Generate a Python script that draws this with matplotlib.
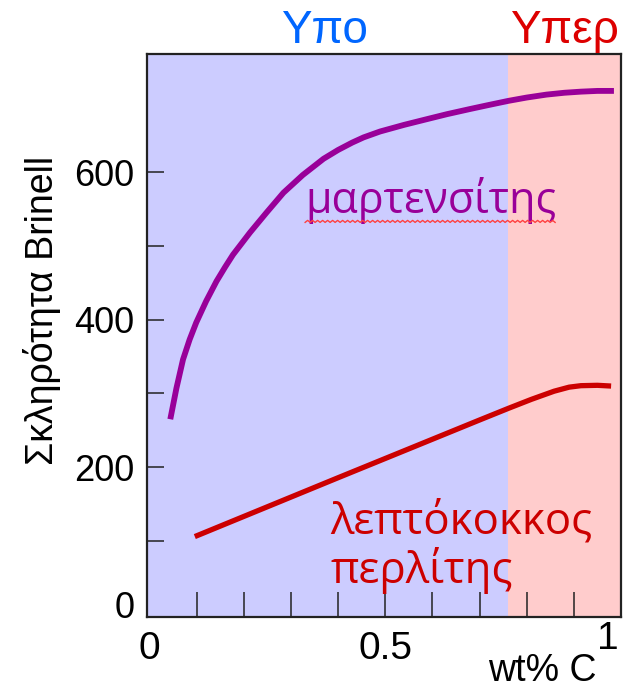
import numpy as np
import matplotlib.pyplot as plt
from matplotlib.transforms import ScaledTranslation

# hardness vs carbon content
wt_c_mart = [0.044, 0.057, 0.071, 0.085, 0.099, 0.12, 0.142, 0.16, 0.177, 0.213,
             0.248, 0.284, 0.325, 0.369, 0.40, 0.43, 0.454, 0.489, 0.54, 0.59,
             0.631, 0.68, 0.72, 0.761, 0.80, 0.842, 0.88, 0.915, 0.95, 0.985]
hb_mart = [265, 307, 346, 373, 396, 425, 452, 471, 488, 518,
           545, 572, 596, 618, 630, 640, 647, 655, 664, 672,
           678.5, 685.5, 691, 696.5, 701, 705, 707.5, 709, 710, 710]

wt_c_pearl = [0.096, 0.397, 0.70, 0.762, 0.81, 0.858, 0.89, 0.915, 0.95, 0.979]
hb_pearl = [106, 185, 264, 280, 292, 303, 308.5, 310.5, 311, 310]

eutectoid = 0.76
x_labels = ["0", "0.5", "1"]
x_label_pos = [0, 0.5, 1]
y_label_pos = [0, 200, 400, 600]

fig = plt.figure(figsize=(6.23, 6.89), dpi=100)
ax = fig.add_axes([0.2355, 0.1045, 0.7613, 0.8171])

ax.set_xlim(-0.006, 1.0)
ax.set_ylim(-3, 760)

# hypo / hyper eutectoid regions
ax.axvspan(-0.006, eutectoid, color="#ccccff", lw=0, zorder=0)
ax.axvspan(eutectoid, 1.0, color="#ffcccc", lw=0, zorder=0)

ax.plot(wt_c_mart, hb_mart, color="#990099", lw=4.2, solid_capstyle="butt",
        solid_joinstyle="round", zorder=3)
ax.plot(wt_c_pearl, hb_pearl, color="#cc0000", lw=3.8, solid_capstyle="butt",
        solid_joinstyle="round", zorder=3)

for s in ax.spines.values():
    s.set_linewidth(1.6)
    s.set_color("#222222")

sans = ["Liberation Sans", "DejaVu Sans"]

ax.set_xticks(x_label_pos)
ax.set_xticklabels(x_labels, family=sans, size=28)
ax.set_xticks(np.arange(1, 10) / 10, minor=True)
ax.set_yticks(y_label_pos)
ax.set_yticklabels([str(v) for v in y_label_pos], family=sans, size=26)
ax.set_yticks(np.arange(1, 7) * 100, minor=True)
ax.xaxis.remove_overlapping_locs = False
ax.yaxis.remove_overlapping_locs = False

ax.tick_params(axis="both", which="major", length=0)
ax.tick_params(axis="x", which="major", pad=10)
ax.tick_params(axis="y", which="major", pad=9)
ax.tick_params(axis="x", which="minor", direction="in", length=18, width=1.1, color="#222222")
ax.tick_params(axis="y", which="minor", direction="in", length=12, width=1.1, color="#222222")

# nudge a couple of end labels
lab1 = ax.get_xticklabels()[-1]
lab1.set_transform(lab1.get_transform() + ScaledTranslation(-0.13, 0.1, fig.dpi_scale_trans))
lab0 = ax.get_yticklabels()[0]
lab0.set_transform(lab0.get_transform() + ScaledTranslation(0, 0.1, fig.dpi_scale_trans))

fig.text(42 / 623, 1 - 310 / 689, "Σκληρότητα Brinell", rotation=90, ha="center", va="center",
         family=sans, size=27)
fig.text(597 / 623, 1 - 681 / 689, "wt% C", ha="right", va="baseline", family=sans, size=27)

fig.text(324 / 623, 1 - 43 / 689, "Υπο", ha="center", va="baseline", color="#0066ff",
         family=sans, size=33)
fig.text(564 / 623, 1 - 43 / 689, "Υπερ", ha="center", va="baseline", color="#dd0000",
         family=sans, size=33)

greek_font = ["Open Sans", "DejaVu Sans"]
mart = ax.text(0.33, 544, "μαρτενσίτης", color="#990099", ha="left", va="baseline",
               family=greek_font, size=31)
ax.text(0.383, 110, "λεπτόκοκκος", color="#cc0000", ha="left", va="baseline",
        family=greek_font, size=31.5)
ax.text(0.383, 43, "περλίτης", color="#cc0000", ha="left", va="baseline",
        family=greek_font, size=31.5)

# wavy spell-check underline under the martensite label
fig.canvas.draw()
bb = mart.get_window_extent()
wx = np.arange(bb.x0, bb.x1, 2.5)
wy = bb.y0 + 2 + 2.0 * (np.arange(len(wx)) % 2)
ax.plot(wx, wy, transform=None, color="#ff4040", lw=1.0, zorder=4)

fig.savefig("out.png", dpi=100)
